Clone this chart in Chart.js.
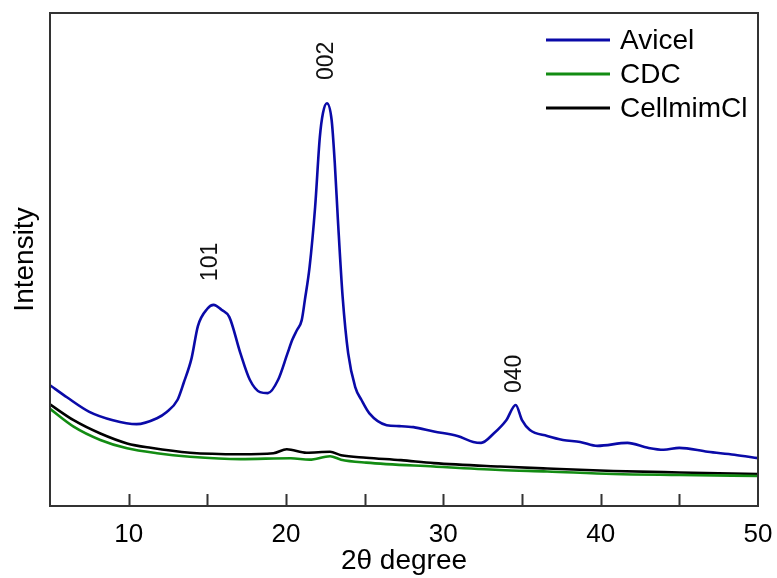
<!DOCTYPE html>
<html>
<head>
<meta charset="utf-8">
<script src="https://cdn.jsdelivr.net/npm/chart.js@4.4.1/dist/chart.umd.min.js"></script>
<style>
  html, body { margin: 0; padding: 0; background: #fff; }
  #wrap { width: 777px; height: 578px; }
</style>
</head>
<body>
<div id="wrap"><canvas id="xrd"></canvas></div>
<script>
// 2θ positions and intensities (arbitrary units, 0..100)
const avicelX = [5, 6.1, 7.5, 9, 10.5, 11.8, 12.4, 13.1, 13.5, 14, 14.4, 15, 15.4, 15.9, 16.4, 17.1, 17.7, 18.35, 18.85, 19.5,
                 20.1, 20.4, 20.7, 21.0, 21.2, 21.5, 21.85, 22.15, 22.35, 22.6, 22.9, 23.1, 23.3, 23.6, 23.95, 24.4, 24.8, 25.3, 26.4, 27.2,
                 28.1, 29.4, 30.9, 31.9, 32.4, 33.2, 34.0, 34.6, 35.0, 35.5, 36.6, 37.6, 38.7, 39.8, 41.7, 43.0, 44.0, 45.0, 46.8, 48.5, 50];
const avicelY = [24.5, 22, 19.1, 17.4, 16.6, 17.8, 19, 21.5, 25, 30, 36.5, 40, 40.8, 39.8, 38.3, 31, 25.6, 23.1, 22.9, 25.6,
                 31, 33.7, 35.7, 37.7, 41.8, 48.5, 60.6, 74.8, 79.7, 81.7, 78.3, 69.6, 58, 42.4, 31, 24.1, 21.5, 18.8, 16.4, 16.2,
                 16, 15.1, 14.2, 13, 12.8, 14.7, 17.4, 20.5, 17.4, 15.4, 14.2, 13.4, 13, 12.2, 12.8, 11.8, 11.4, 11.8, 11, 10.4, 9.7];

const cdcX = [5, 6.5, 8.2, 9.9, 11.8, 13.9, 17.1, 20.3, 21.5, 22.8, 23.5, 25.1, 29.4, 33.6, 36.6, 40.8, 45, 50];
const cdcY = [19.7, 16.1, 13.4, 11.7, 10.7, 10, 9.5, 9.7, 9.4, 10.1, 9.4, 8.8, 8, 7.3, 7, 6.5, 6.3, 6.1];

const cellX = [5, 6.5, 8.2, 9.9, 11.4, 13.9, 17.1, 19.2, 20.05, 21.3, 22.8, 23.5, 25.1, 27.3, 29.4, 33.6, 36.6, 40.8, 45, 50];
const cellY = [20.6, 17.4, 14.7, 12.7, 11.8, 10.8, 10.5, 10.7, 11.5, 10.8, 11, 10.3, 9.8, 9.3, 8.7, 8, 7.6, 7.1, 6.8, 6.5];

const seriesNames = ['Avicel', 'CDC', 'CellmimCl'];

// peak labels (Miller indices) and where they sit
const peakLabels = ['101', '002', '040'];
const peakX = [15.2, 22.6, 34.55];
const peakY = [49.5, 90.3, 26.8];

const xTicks = [10, 15, 20, 25, 30, 35, 40, 45];

const FONT = "'Liberation Sans', Arial, sans-serif";

function pts(xs, ys) {
    return xs.map((x, i) => ({ x: x, y: ys[i] }));
}

// box around the plot + inward tick marks
const frame = {
    id: 'frame',
    afterDatasetsDraw(chart) {
        const { ctx, chartArea: a, scales: { x } } = chart;
        ctx.save();
        ctx.strokeStyle = '#333';
        ctx.lineWidth = 2;
        ctx.strokeRect(a.left, a.top, a.right - a.left, a.bottom - a.top);
        ctx.beginPath();
        xTicks.forEach(t => {
            const px = Math.round(x.getPixelForValue(t)) + 0.5;
            ctx.moveTo(px, a.bottom);
            ctx.lineTo(px, a.bottom - 12);
        });
        ctx.stroke();
        ctx.restore();
    }
};

// rotated peak annotations
const peaks = {
    id: 'peaks',
    afterDatasetsDraw(chart) {
        const { ctx, scales: { x, y } } = chart;
        ctx.save();
        ctx.fillStyle = '#111';
        ctx.font = '23px ' + FONT;
        ctx.textAlign = 'center';
        ctx.textBaseline = 'middle';
        peakLabels.forEach((lab, i) => {
            ctx.save();
            ctx.translate(x.getPixelForValue(peakX[i]), y.getPixelForValue(peakY[i]));
            ctx.rotate(-Math.PI / 2);
            ctx.fillText(lab, 0, 0);
            ctx.restore();
        });
        ctx.restore();
    }
};

// legend in the top right corner: line sample + name
const lineLegend = {
    id: 'lineLegend',
    afterDraw(chart) {
        const { ctx } = chart;
        ctx.save();
        ctx.font = '28px ' + FONT;
        ctx.textBaseline = 'middle';
        ctx.fillStyle = '#000';
        chart.data.datasets.forEach((ds, i) => {
            const yy = 40 + i * 34;
            ctx.strokeStyle = ds.borderColor;
            ctx.lineWidth = 3;
            ctx.beginPath();
            ctx.moveTo(546, yy);
            ctx.lineTo(610, yy);
            ctx.stroke();
            ctx.fillText(ds.label, 620, yy + 1);
        });
        ctx.restore();
    }
};

const colors = ['#0a0aa8', '#138c13', '#000000'];
const sets = [pts(avicelX, avicelY), pts(cdcX, cdcY), pts(cellX, cellY)];

new Chart(document.getElementById('xrd'), {
    type: 'line',
    data: {
        datasets: sets.map((d, i) => ({
            label: seriesNames[i],
            data: d,
            borderColor: colors[i],
            borderWidth: 2.6,
            pointRadius: 0,
            cubicInterpolationMode: 'monotone',
            fill: false
        }))
    },
    options: {
        responsive: true,
        maintainAspectRatio: false,
        animation: false,
        layout: { padding: { top: 13, right: 19, left: 0, bottom: 0 } },
        scales: {
            x: {
                type: 'linear',
                min: 5,
                max: 50,
                grid: { display: false, drawTicks: false },
                border: { display: false },
                ticks: {
                    stepSize: 5,
                    autoSkip: false,
                    maxRotation: 0,
                    padding: 13,
                    color: '#000',
                    font: { family: FONT, size: 26 },
                    callback: v => (v % 10 === 0 ? v : '')
                },
                title: {
                    display: true,
                    text: '2θ degree',
                    color: '#000',
                    font: { family: FONT, size: 28 },
                    padding: { top: 0, bottom: 0 }
                },
                afterFit: s => {
                    s.height = 72;
                    s.paddingLeft = 0;
                    s.paddingRight = 0;
                }
            },
            y: {
                min: 0,
                max: 100,
                grid: { display: false, drawTicks: false },
                border: { display: false },
                ticks: { display: false },
                title: {
                    display: true,
                    text: 'Intensity',
                    color: '#000',
                    font: { family: FONT, size: 28 },
                    padding: { top: 8, bottom: 0 }
                },
                afterFit: s => { s.width = 50; }
            }
        },
        plugins: {
            legend: { display: false },
            tooltip: { enabled: false }
        }
    },
    plugins: [frame, peaks, lineLegend]
});
</script>
</body>
</html>
